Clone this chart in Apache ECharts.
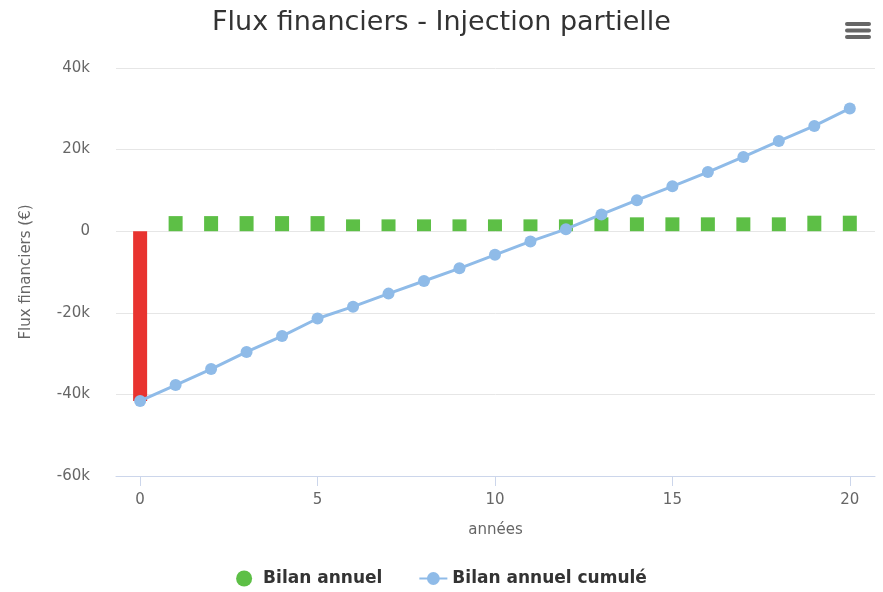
<!DOCTYPE html>
<html>
<head>
<meta charset="utf-8">
<title>Flux financiers - Injection partielle</title>
<script src="https://cdn.jsdelivr.net/npm/echarts@6.0.0/dist/echarts.min.js"></script>
<style>
    html, body { margin: 0; padding: 0; background: #fff; }
    #main { width: 883px; height: 592px; }
</style>
</head>
<body>
<div id="main"></div>
<script>
// années
var years = [0, 1, 2, 3, 4, 5, 6, 7, 8, 9, 10, 11, 12, 13, 14, 15, 16, 17, 18, 19, 20];
// Bilan annuel (€)
var bilanAnnuel = [-41600, 3700, 3700, 3700, 3700, 3700, 2900, 2900, 2900, 2900, 2900,
    2900, 2900, 3400, 3400, 3400, 3400, 3400, 3400, 3800, 3800];
// Bilan annuel cumulé (€)
var bilanCumule = [-41600, -37700, -33800, -29600, -25700, -21400, -18500, -15300, -12200, -9100, -5800,
    -2500, 500, 4100, 7600, 11000, 14500, 18200, 22100, 25800, 30100];
// graduations
var xTicks = [0, 5, 10, 15, 20];

var chart = echarts.init(document.getElementById('main'));

var barData = years.map(function (y, i) {
    var item = { value: [y, bilanAnnuel[i]] };
    if (bilanAnnuel[i] < 0) {
        item.itemStyle = { color: '#e8332f' };  // injection initiale
    }
    return item;
});
var lineData = years.map(function (y, i) { return [y, bilanCumule[i]]; });

var option = {
    animation: false,
    textStyle: { fontFamily: 'DejaVu Sans' },
    title: {
        text: 'Flux financiers - Injection partielle',
        left: 'center',
        top: 4,
        textStyle: { fontSize: 27, fontWeight: 'normal', color: '#333', fontFamily: 'DejaVu Sans' }
    },
    grid: {
        left: 116,
        right: 8,
        top: 68,
        bottom: 116,
        containLabel: false
    },
    legend: {
        bottom: 0,
        left: 'center',
        itemGap: 36,
        itemWidth: 28,
        itemHeight: 16,
        textStyle: { fontSize: 17, fontWeight: 'bold', color: '#333' },
        data: [
            { name: 'Bilan annuel', icon: 'circle' },
            { name: 'Bilan annuel cumulé' }
        ]
    },
    xAxis: {
        type: 'value',
        min: -0.68,
        max: 20.71,
        name: 'années',
        nameLocation: 'middle',
        nameGap: 47,
        nameTextStyle: { fontSize: 15, color: '#666' },
        axisLine: { show: true, onZero: false, lineStyle: { color: '#ccd6eb' } },
        axisTick: { show: true, length: 10, lineStyle: { color: '#ccd6eb' }, customValues: xTicks },
        axisLabel: { fontSize: 15, color: '#666', margin: 17, customValues: xTicks },
        splitLine: { show: false }
    },
    yAxis: {
        type: 'value',
        min: -60000,
        max: 40000,
        interval: 20000,
        name: 'Flux financiers (€)',
        nameLocation: 'middle',
        nameGap: 82,
        nameTextStyle: { fontSize: 15, color: '#666' },
        axisLine: { show: false },
        axisTick: { show: false },
        axisLabel: {
            fontSize: 15,
            color: '#666',
            margin: 26,
            formatter: function (v) { return v === 0 ? '0' : (v / 1000) + 'k'; }
        },
        splitLine: { lineStyle: { color: '#e6e6e6' } }
    },
    series: [
        {
            name: 'Bilan annuel',
            type: 'bar',
            barWidth: 14,
            itemStyle: { color: '#5dbf46' },
            data: barData,
            z: 2
        },
        {
            name: 'Bilan annuel cumulé',
            type: 'line',
            symbol: 'circle',
            symbolSize: 12,
            lineStyle: { color: '#8fbbe8', width: 3 },
            itemStyle: { color: '#8fbbe8' },
            data: lineData,
            z: 3
        }
    ],
    graphic: [
        {
            type: 'group',
            right: 12,
            top: 22,
            children: [
                { type: 'rect', shape: { x: 0, y: 0, width: 26, height: 4, r: 2 }, style: { fill: '#666' } },
                { type: 'rect', shape: { x: 0, y: 6.5, width: 26, height: 4, r: 2 }, style: { fill: '#666' } },
                { type: 'rect', shape: { x: 0, y: 13, width: 26, height: 4, r: 2 }, style: { fill: '#666' } }
            ]
        }
    ]
};

chart.setOption(option);
window.addEventListener('resize', function () {
    chart.resize();
});
</script>
</body>
</html>
